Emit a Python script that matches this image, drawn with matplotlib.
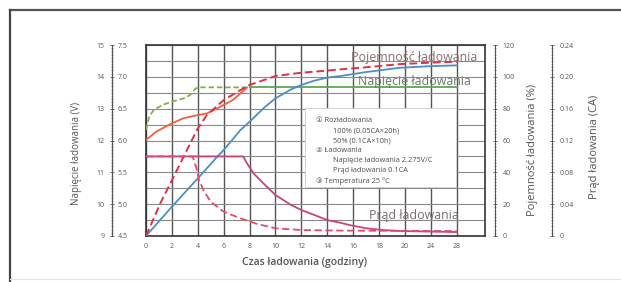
import numpy as np
import matplotlib
matplotlib.use("Agg")
import matplotlib.pyplot as plt
from matplotlib.patches import Rectangle
from matplotlib.lines import Line2D

plt.rcParams['font.family'] = ['Open Sans', 'DejaVu Sans']

# ---------------- data ----------------
x_ticks = [0, 2, 4, 6, 8, 10, 12, 14, 16, 18, 20, 24, 28]
x_tick_labels = ['0', '2', '4', '6', '8', '10', '12', '14', '16', '18', '20', '24', '28']

# charging voltage (V, 12 V scale)
v_green_dash_x = [0, 0.25, 0.6, 1.3, 2.0, 2.9, 3.4, 3.8, 4.0, 8.0]
v_green_dash_y = [12.33, 12.75, 12.96, 13.12, 13.22, 13.32, 13.43, 13.62, 13.67, 13.67]
v_green_x = [8.0, 28]
v_green_y = [13.67, 13.67]
v_orange_x = [0, 0.8, 2.0, 2.9, 4.0, 4.7, 5.5, 6.0, 6.7, 7.3, 7.8]
v_orange_y = [12.02, 12.28, 12.54, 12.70, 12.80, 12.85, 13.01, 13.12, 13.27, 13.48, 13.66]

# charged capacity (%)
c_red_x = [0, 1.1, 2.0, 2.9, 4.0, 4.7, 6.0, 7.3, 8.0, 10.0, 12.0, 14.0, 15.0, 17.0, 19.6, 24.4, 28.0]
c_red_y = [0, 20.5, 35, 49.8, 67.6, 76, 85.4, 91.7, 94.9, 100.5, 102.6, 103.9, 104.7, 106, 108, 109, 109.5]
c_blue_x = [0, 2, 4, 5.5, 6, 7.3, 8.0, 9.2, 10.0, 11.2, 12.0, 13.0, 14.0, 15.0, 17.0, 19.6, 24.4, 28.0]
c_blue_y = [0, 18.4, 36.2, 49.8, 54, 66.6, 71.8, 81.2, 86.5, 92.1, 94.9, 97.6, 99.5, 100.5, 103, 105.7, 106.8, 107.2]

# charging current (CA)
i_mag_x = [0, 7.5, 7.8, 8.3, 9.2, 10.0, 11.2, 12.0, 13.0, 14.0, 15.0, 15.7, 17.0, 18.3, 19.6, 24.0, 28.0]
i_mag_y = [0.1, 0.1, 0.0913, 0.0788, 0.064, 0.0515, 0.039, 0.0327, 0.0264, 0.020, 0.0167, 0.0138,
           0.0097, 0.0075, 0.0063, 0.0055, 0.005]
i_red_x = [0, 3.6, 3.9, 4.1, 4.5, 5.0, 6.0, 7.3, 8.6, 10.0, 12.0, 15.0, 20.0, 28.0]
i_red_y = [0.1, 0.1, 0.085, 0.070, 0.0557, 0.043, 0.0305, 0.0222, 0.015, 0.0097, 0.0075, 0.0068, 0.0065, 0.0062]

v12_ticks = [9, 10, 11, 12, 13, 14, 15]
v6_ticks = [4.5, 5.0, 5.5, 6.0, 6.5, 7.0, 7.5]
cap_ticks = [0, 20, 40, 60, 80, 100, 120]
cur_ticks = [0, 0.04, 0.08, 0.12, 0.16, 0.20, 0.24]
cur_tick_labels = ['0', '0.04', '0.08', '0.12', '0.16', '0.20', '0.24']

info_lines = [
    ('\u2460 Rozładowania', 0),
    ('100% (0.05CA×20h)', 1),
    ('50% (0.1CA×10h)', 1),
    ('\u2461 Ładowania', 0),
    ('Napięcie ładowania 2.275V/C', 1),
    ('Prąd ładowania 0.1CA', 1),
    ('\u2462 Temperatura 25 °C', 0),
]

# ---------------- figure ----------------
W, Hh = 621, 282
fig = plt.figure(figsize=(W / 100, Hh / 100), dpi=100)
fig.patch.set_facecolor('white')

px_l, px_r, px_t, px_b = 146, 485, 45, 236
L = px_l / W
B = (Hh - px_b) / Hh
AW = (px_r - px_l) / W
AH = (px_b - px_t) / Hh

ax = fig.add_axes([L, B, AW, AH])


def fwd(h):
    h = np.asarray(h, dtype=float)
    return np.where(h <= 20, h, 20 + (h - 20) / 2)


def inv(p):
    p = np.asarray(p, dtype=float)
    return np.where(p <= 20, p, 20 + (p - 20) * 2)


ax.set_xscale('function', functions=(fwd, inv))
ax.set_xlim(0, float(inv(26.18)))
ax.set_ylim(9, 15)
ax.set_xticks(x_ticks)
ax.set_xticklabels(x_tick_labels, fontsize=5, color='#555555')
ax.tick_params(axis='x', length=0, pad=5)
ax.set_yticks(np.arange(9, 15.01, 0.5))
ax.tick_params(axis='y', length=0, labelleft=False)
ax.xaxis.grid(True, color='#555555', lw=1.0)
ax.yaxis.grid(True, color='#8a8a8a', lw=0.8)
ax.set_axisbelow(True)
for s in ax.spines.values():
    s.set_color('#333333')
    s.set_linewidth(1.2)

axC = ax.twinx()
axC.set_ylim(0, 120)
axI = ax.twinx()
axI.set_ylim(0, 0.24)
for a in (axC, axI):
    a.set_yticks([])
    for s in a.spines.values():
        s.set_visible(False)

# info box
ax.add_patch(Rectangle((0.469, 0.2565), 0.445, 0.4135, transform=ax.transAxes,
                       facecolor='white', edgecolor='#cccccc', lw=0.6, zorder=1.5))
y0 = (px_b - 121) / (px_b - px_t)
dy = 10.0 / (px_b - px_t)
for k, (t, ind) in enumerate(info_lines):
    xx = (316 - px_l) / (px_r - px_l) if ind == 0 else (333 - px_l) / (px_r - px_l)
    ax.text(xx, y0 - k * dy, t, transform=ax.transAxes, fontsize=5.3,
            color='#4d4d4d', va='center', ha='left', zorder=2)

# curves
kw = dict(solid_joinstyle='round', dash_joinstyle='round')
ax.plot(v_green_dash_x, v_green_dash_y, color='#86ad4a', lw=1.3, ls=(0, (3, 1.6)), zorder=3, **kw)
ax.plot(v_green_x, v_green_y, color='#5aa94f', lw=1.3, zorder=3, **kw)
ax.plot(v_orange_x, v_orange_y, color='#f0603c', lw=1.3, zorder=4, **kw)
axC.plot(c_blue_x, c_blue_y, color='#4a8fc8', lw=1.3, zorder=3, **kw)
axC.plot(c_red_x, c_red_y, color='#e0304a', lw=1.4, ls=(0, (4, 2)), zorder=4, **kw)
axI.plot(i_mag_x, i_mag_y, color='#c2467e', lw=1.3, zorder=3, **kw)
axI.plot(i_red_x, i_red_y, color='#e8486a', lw=1.3, ls=(0, (4, 2)), zorder=4, **kw)

# curve labels
for txt, yp, col in [('Pojemność ładowania', 57, '#8a6e6e'),
                     ('Napięcie ładowania', 81, '#6e7568'),
                     ('Prąd ładowania', 216, '#7a6d70')]:
    ax.text((414 - px_l) / (px_r - px_l), (px_b - yp) / (px_b - px_t), txt,
            transform=ax.transAxes, fontsize=8.9, color=col, ha='center', va='center', zorder=5)


# ---------------- side scales ----------------
def side_axis(xpix, lim, ticks, labels, side, minor_step):
    a = fig.add_axes([xpix / W, B, 0.0001, AH])
    a.set_ylim(*lim)
    a.set_xticks([])
    a.set_yticks(ticks)
    a.set_yticklabels(labels, fontsize=5, color='#555555')
    a.set_yticks(np.arange(lim[0], lim[1] + 1e-9, minor_step), minor=True)
    a.patch.set_alpha(0)
    for k, s in a.spines.items():
        s.set_visible(k == side)
        s.set_color('#555555')
        s.set_linewidth(0.8)
    a.yaxis.set_ticks_position(side)
    a.tick_params(axis='y', which='major', length=3, width=0.6, color='#555555', pad=4, direction='inout')
    a.tick_params(axis='y', which='minor', length=1.5, width=0.4, color='#555555', direction='inout')
    return a


side_axis(112, (9, 15), v12_ticks, [str(t) for t in v12_ticks], 'left', 0.1)
a6 = side_axis(112, (4.5, 7.5), v6_ticks, ['%.1f' % t for t in v6_ticks], 'right', 0.05)
a6.tick_params(axis='y', which='both', length=0)
side_axis(495, (0, 120), cap_ticks, [str(t) for t in cap_ticks], 'right', 2)
side_axis(552, (0, 0.24), cur_ticks, cur_tick_labels, 'right', 0.004)

# axis titles
fig.text(76 / W, 1 - 153 / Hh, 'Napięcie ładowania (V)', rotation=90, fontsize=7,
         color='#555555', ha='center', va='center')
fig.text(533 / W, 1 - 150 / Hh, 'Pojemność ładowania (%)', rotation=90, fontsize=8,
         color='#555555', ha='center', va='center')
fig.text(594 / W, 1 - 147 / Hh, 'Prąd ładowania (CA)', rotation=90, fontsize=8,
         color='#555555', ha='center', va='center')
fig.text(305 / W, 1 - 262 / Hh, 'Czas ładowania (godziny)', fontsize=7.5, fontweight='semibold',
         color='#555555', ha='center', va='center')

# outer frame
fig.add_artist(Line2D([10 / W, 1], [1 - 10 / Hh, 1 - 10 / Hh], color='#555555', lw=1.6))
fig.add_artist(Line2D([10 / W, 10 / W], [0, 1 - 10 / Hh], color='#444444', lw=1.6))
fig.add_artist(Line2D([10 / W, 1], [3 / Hh, 3 / Hh], color='#e4e4e4', lw=0.8))

fig.savefig('out.png', dpi=100)
